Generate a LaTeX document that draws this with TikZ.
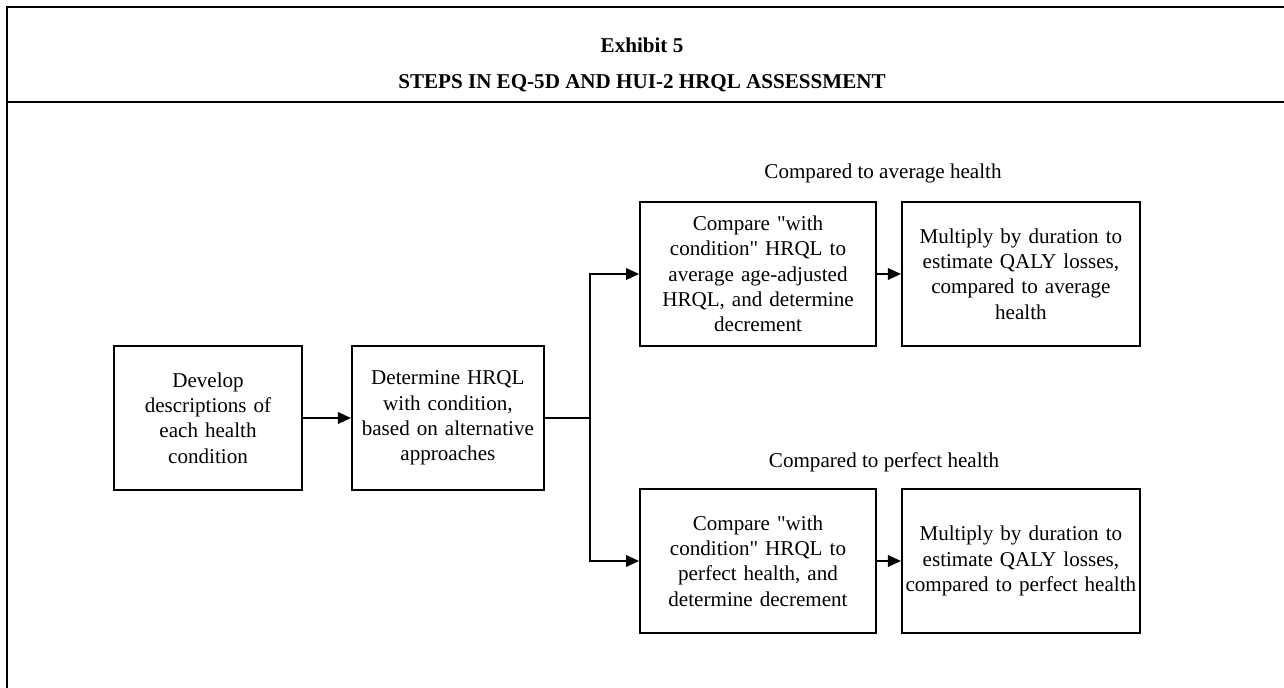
\documentclass[tikz,border=0pt]{standalone}
\usepackage{fontspec}
\setmainfont{Liberation Serif}
\usetikzlibrary{arrows.meta, positioning}

\begin{document}
\begin{tikzpicture}[
    x=0.02cm, y=-0.02cm,
    node distance=0.96cm,
    stepbox/.style={rectangle, draw, line width=1.1pt, text width=3.62cm, align=center, inner xsep=0.07cm, inner ysep=0pt, minimum height=2.88cm, font=\fontsize{12}{14.4}\selectfont},
    arrow/.style={-{Triangle[length=2.6mm, width=2.3mm]}, line width=1.1pt},
    frame/.style={line width=1.2pt},
    note/.style={font=\fontsize{12}{14.4}\selectfont}
]

\useasboundingbox (0,0) rectangle (1284,688);

% frame and heading
\draw[frame] (7,688) -- (7,7) -- (1284,7);
\draw[frame] (7,102) -- (1284,102);
\node[note, font=\fontsize{12}{14.4}\selectfont\bfseries] (exhibit) at (642,45) {Exhibit 5};
\node[note, font=\fontsize{12}{14.4}\selectfont\bfseries] (title) at (642,83) {STEPS IN EQ-5D AND HUI-2 HRQL ASSESSMENT};

% first two steps
\node[stepbox] (develop) at (208,418) {Develop\\descriptions of\\each health\\condition};
\node[stepbox, text width=3.7cm, right=of develop] (hrql) {Determine HRQL\\with condition,\\based on alternative\\approaches};

% compared to average health
\node[stepbox, text width=4.58cm] (avgcmp) at (758,274) {Compare \textquotedbl with\\condition\textquotedbl{} HRQL to\\average age-adjusted\\HRQL, and determine\\decrement};
\node[stepbox, text width=4.62cm, right=0.48cm of avgcmp] (avgqaly) {Multiply by duration to\\estimate QALY losses,\\compared to average\\health};
\node[note] (avglabel) at (883,173) {Compared to average health};

% compared to perfect health
\node[stepbox, text width=4.58cm] (perfcmp) at (758,561) {Compare \textquotedbl with\\condition\textquotedbl{} HRQL to\\perfect health, and\\determine decrement};
\node[stepbox, text width=4.62cm, right=0.48cm of perfcmp] (perfqaly) {Multiply by duration to\\estimate QALY losses,\\compared to perfect health};
\node[note] (perflabel) at (884,462) {Compared to perfect health};

\coordinate (split) at (590,418);

\draw[arrow] (develop) -- (hrql);
\draw[line width=1.1pt] (hrql) -- (split);
\draw[arrow] (split) |- (avgcmp);
\draw[arrow] (split) |- (perfcmp);
\draw[arrow] (avgcmp) -- (avgqaly);
\draw[arrow] (perfcmp) -- (perfqaly);

\end{tikzpicture}
\end{document}
